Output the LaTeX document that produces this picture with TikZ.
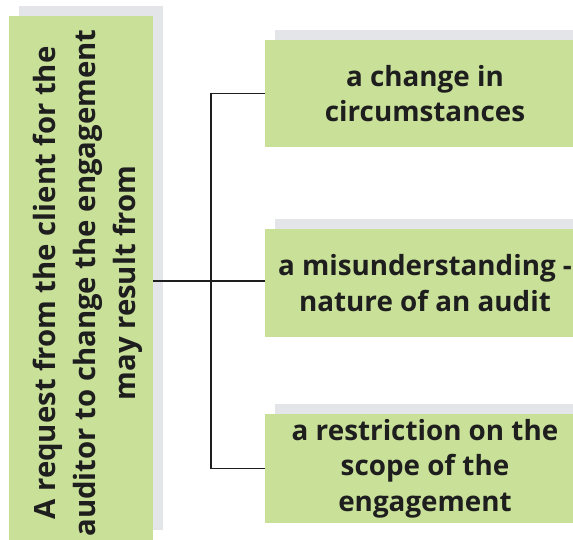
\documentclass[tikz,border=0pt]{standalone}
\usepackage{fontspec}
\setmainfont{Open Sans}
\usetikzlibrary{shadows}

\definecolor{boxgreen}{RGB}{201,224,153}
\definecolor{shadowgray}{RGB}{228,229,233}
\definecolor{inkdark}{RGB}{30,30,30}

\tikzset{
	greenbox/.style={fill=boxgreen, draw=none, inner sep=0pt, align=center,
		font=\fontsize{27.8}{35.5}\selectfont\bfseries, text=inkdark,
		general shadow={fill=shadowgray, shadow xshift=10pt, shadow yshift=10pt}},
	branch/.style={draw=inkdark, line width=1.6pt}
}

\begin{document}
\begin{tikzpicture}[x=1pt,y=1pt,yscale=-1,xscale=1]
	\useasboundingbox (0,0) rectangle (573,540);
	
	% Left box (rotated text)
	\node [greenbox, minimum width=144pt, minimum height=524pt] (request) at (81,278) {};
	\node [rotate=90, align=center, font=\fontsize{29.3}{40}\selectfont\bfseries, text=inkdark] (requesttext) at (88,283) {A request from the client for the\\auditor to change the engagement\\may result from};
	
	% Right boxes (run past the right margin)
	\node [greenbox, minimum width=320pt, minimum height=107pt] (change) at (425,93.5) {a change in\\circumstances};
	\node [greenbox, minimum width=320pt, minimum height=108pt] (misunder) at (425,283) {a misunderstanding -\\nature of an audit};
	\node [greenbox, minimum width=320pt, minimum height=109pt] (restrict) at (425,468.5) {a restriction on the\\scope of the\\engagement};
	
	% Connectors
	\coordinate (fork) at (211,281);
	\draw [branch] (request.east |- fork) -- (misunder.west |- fork);
	\draw [branch] (change.west) -| (fork) |- (restrict.west);
	
\end{tikzpicture}
\end{document}
